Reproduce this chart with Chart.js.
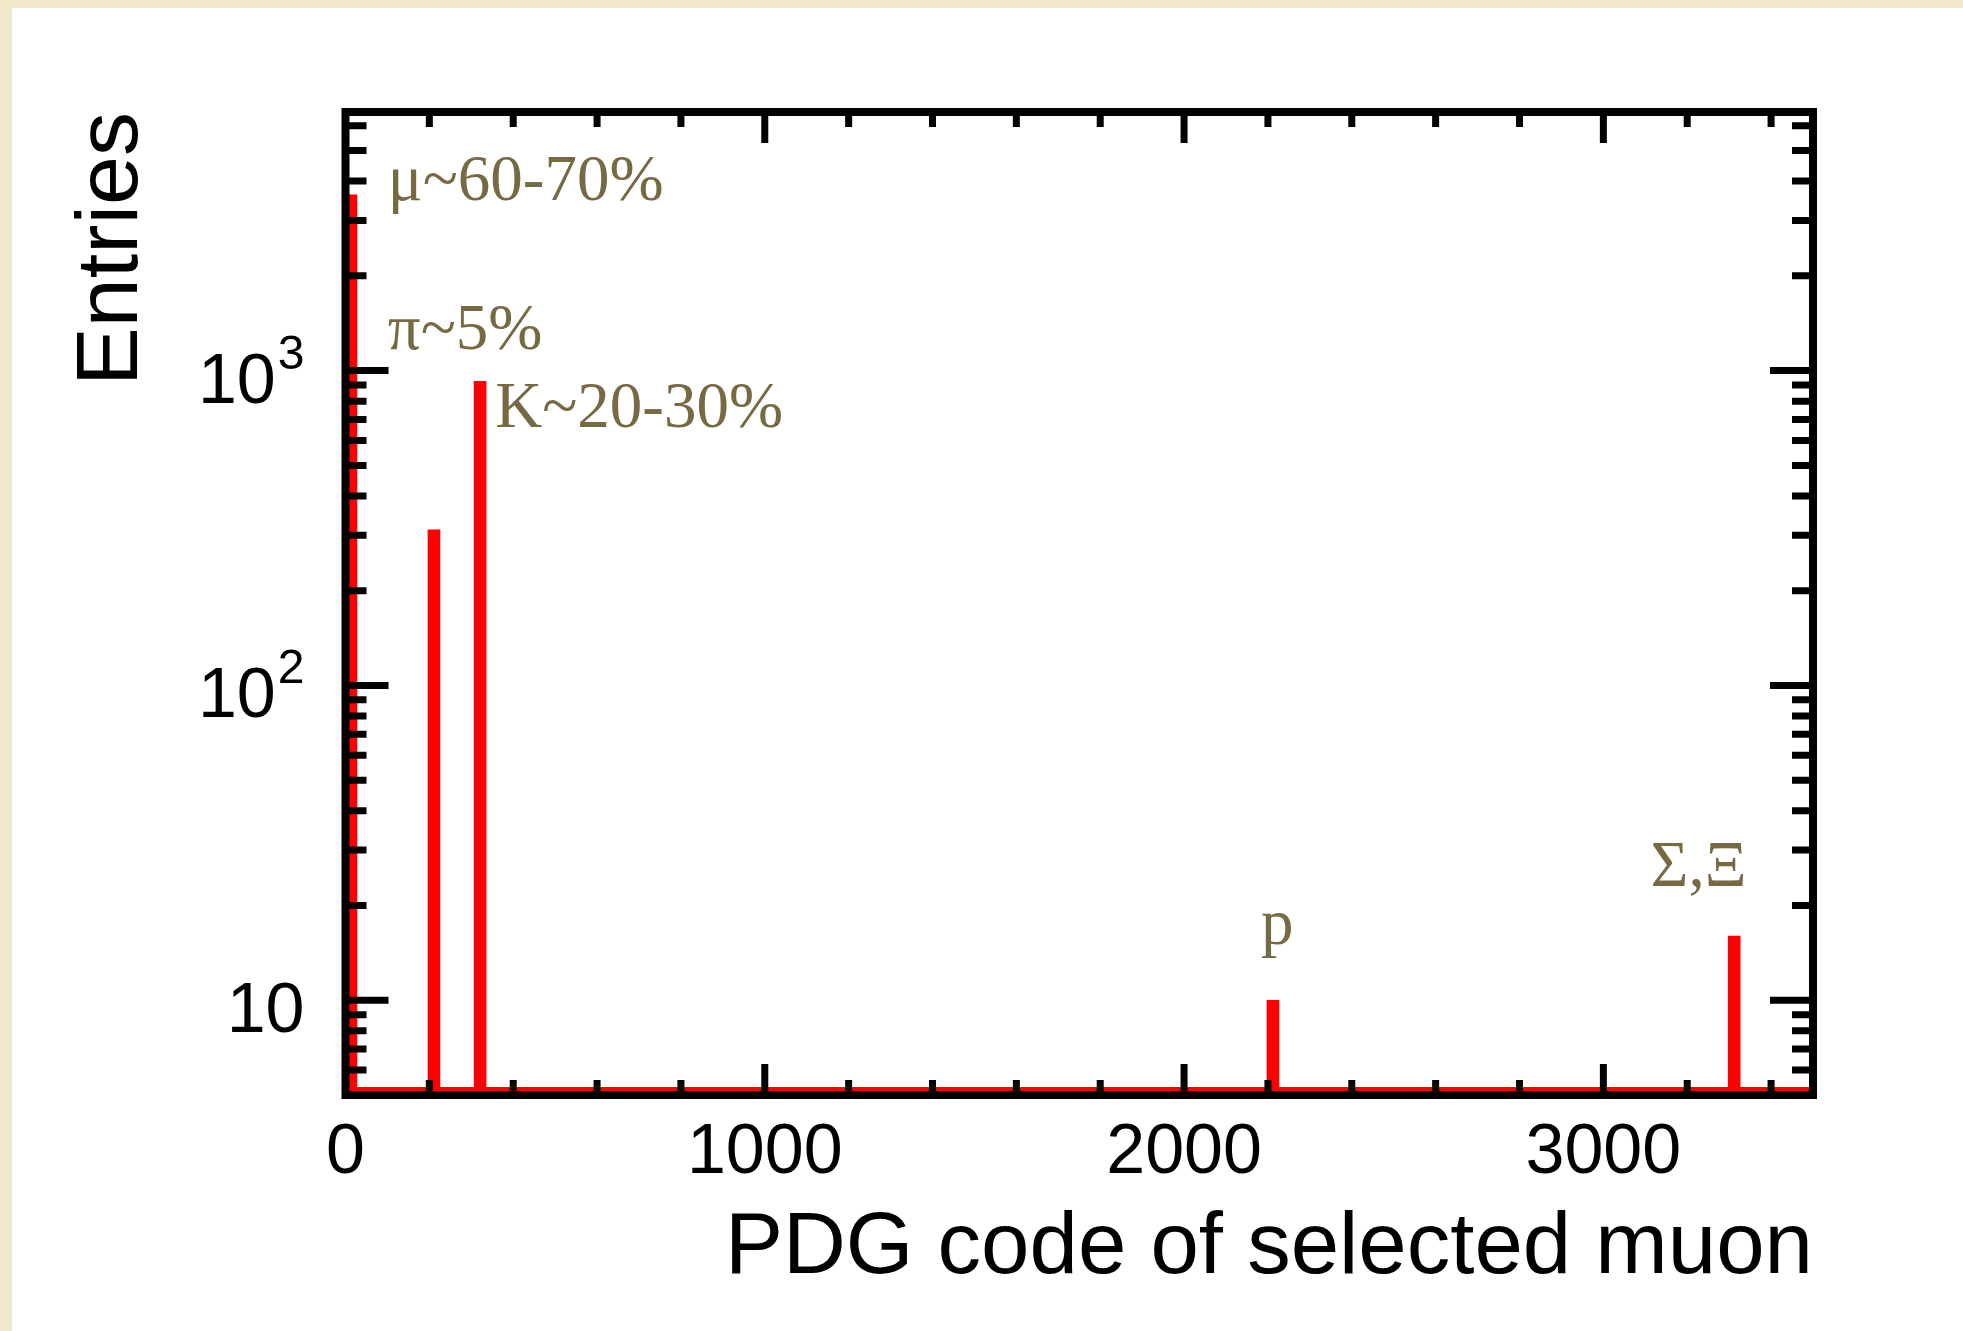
<!DOCTYPE html>
<html>
<head>
<meta charset="utf-8">
<script src="https://cdn.jsdelivr.net/npm/chart.js@4.4.1/dist/chart.umd.min.js"></script>
<style>
html, body { margin: 0; padding: 0; width: 1963px; height: 1331px; overflow: hidden; background: #f1e7cb; }
#panel { position: absolute; left: 12px; top: 8px; right: 0; bottom: 0; background: #ffffff; }
#chart { position: absolute; left: 0; top: 0; }
</style>
</head>
<body>
<div id="panel"></div>
<canvas id="chart" width="1963" height="1331"></canvas>
<script>
// PDG code of the selected muon candidate and number of entries
var pdgCodes = [13, 211, 321, 2212, 3312];
var entries = [3620, 312, 924, 10, 16];

// axis ticks
var xTicks = [0, 200, 400, 600, 800, 1000, 1200, 1400, 1600, 1800, 2000, 2200, 2400, 2600, 2800, 3000, 3200, 3400];
var xMajorTicks = [0, 1000, 2000, 3000];
var yTicks = [5, 6, 7, 8, 9, 10, 20, 30, 40, 50, 60, 70, 80, 90, 100, 200, 300, 400, 500, 600, 700, 800, 900,
    1000, 2000, 3000, 4000, 5000, 6000];
var yDecades = [10, 100, 1000];
var yLabelExp = ['', '2', '3'];

// particle labels, anchored in data coordinates
var annotationText = ['μ~60-70%', 'π~5%', 'K~20-30%', 'p', 'Σ,Ξ'];
var annotationX = [101, 101, 357, 2222, 3227];
var annotationY = [3490, 1174, 664, 15.1, 23.1];
var annotationAlign = ['left', 'left', 'left', 'center', 'center'];

var sansFamily = '"Liberation Sans", Arial, Helvetica, sans-serif';
var serifFamily = '"Liberation Serif", "Times New Roman", serif';

/**
 * Draws the ROOT style frame: inward ticks on all four sides,
 * y labels with exponents, the empty-bin line and the particle labels.
 */
var rootFrame = {
    id: 'rootFrame',
    afterDatasetsDraw(chart) {
        var ctx = chart.ctx;
        var a = chart.chartArea;
        var x = chart.scales.x;
        var y = chart.scales.y;

        ctx.save();
        // histogram line at the minimum (empty bins)
        ctx.strokeStyle = '#ff0000';
        ctx.lineWidth = 4;
        ctx.beginPath();
        ctx.moveTo(a.left, a.bottom - 6);
        ctx.lineTo(a.right, a.bottom - 6);
        ctx.stroke();

        ctx.strokeStyle = '#000000';
        ctx.lineWidth = 7;
        ctx.beginPath();
        x.ticks.forEach(function (t) {
            if (t.value <= x.min || t.value >= x.max) return;
            var px = x.getPixelForValue(t.value);
            var len = xMajorTicks.indexOf(t.value) >= 0 ? 31 : 15;
            ctx.moveTo(px, a.bottom); ctx.lineTo(px, a.bottom - len);
            ctx.moveTo(px, a.top); ctx.lineTo(px, a.top + len);
        });
        y.ticks.forEach(function (t) {
            if (t.value <= y.min || t.value >= y.max) return;
            var py = y.getPixelForValue(t.value);
            var len = yDecades.indexOf(t.value) >= 0 ? 43 : 21;
            ctx.moveTo(a.left, py); ctx.lineTo(a.left + len, py);
            ctx.moveTo(a.right, py); ctx.lineTo(a.right - len, py);
        });
        ctx.stroke();

        ctx.lineWidth = 8;
        ctx.strokeRect(a.left, a.top, a.right - a.left, a.bottom - a.top);

        // y labels: 10, 10^2, 10^3
        ctx.fillStyle = '#000000';
        ctx.textBaseline = 'alphabetic';
        ctx.textAlign = 'right';
        var labelRight = a.left - 41;
        yDecades.forEach(function (v, i) {
            var py = y.getPixelForValue(v);
            var right = labelRight;
            if (yLabelExp[i]) {
                ctx.font = '48px ' + sansFamily;
                ctx.fillText(yLabelExp[i], right, py - 2);
                right -= ctx.measureText(yLabelExp[i]).width + 2;
            }
            ctx.font = '70px ' + sansFamily;
            ctx.fillText('10', right, py + 32);
        });

        // particle labels
        ctx.fillStyle = '#776a43';
        ctx.font = '65px ' + serifFamily;
        annotationText.forEach(function (txt, i) {
            ctx.textAlign = annotationAlign[i];
            ctx.fillText(txt, x.getPixelForValue(annotationX[i]), y.getPixelForValue(annotationY[i]));
        });
        ctx.restore();
    }
};

var ctx = document.getElementById('chart');
new Chart(ctx, {
    type: 'bar',
    data: {
        datasets: [{
            data: pdgCodes.map(function (c, i) { return {x: c, y: entries[i]}; }),
            backgroundColor: '#ff0000',
            borderWidth: 0,
            barThickness: 12
        }]
    },
    plugins: [rootFrame],
    options: {
        responsive: false,
        animation: false,
        devicePixelRatio: 1,
        layout: {padding: {top: 112, right: 150, left: 0, bottom: 0}},
        plugins: {
            legend: {display: false},
            tooltip: {enabled: false}
        },
        scales: {
            x: {
                type: 'linear',
                min: 0,
                max: 3500,
                offset: false,
                afterBuildTicks: function (s) { s.ticks = xTicks.map(function (v) { return {value: v}; }); },
                afterFit: function (s) { s.height = 236; },
                grid: {display: false, drawTicks: false, offset: false},
                border: {display: false},
                ticks: {
                    autoSkip: false,
                    maxRotation: 0,
                    padding: 17,
                    color: '#000000',
                    font: {family: sansFamily, size: 70},
                    callback: function (v) { return xMajorTicks.indexOf(v) >= 0 ? String(v) : ''; }
                },
                title: {
                    display: true,
                    text: 'PDG code of selected muon',
                    align: 'end',
                    color: '#000000',
                    font: {family: sansFamily, size: 87},
                    padding: {top: 0, bottom: 30}
                }
            },
            y: {
                type: 'logarithmic',
                min: 5,
                max: 6630,
                afterBuildTicks: function (s) { s.ticks = yTicks.map(function (v) { return {value: v}; }); },
                afterFit: function (s) { s.width = 345.5; },
                grid: {display: false, drawTicks: false},
                border: {display: false},
                ticks: {display: false},
                title: {
                    display: true,
                    text: 'Entries',
                    align: 'end',
                    color: '#000000',
                    font: {family: sansFamily, size: 88},
                    padding: {top: 60, bottom: 0}
                }
            }
        }
    }
});
</script>
</body>
</html>
